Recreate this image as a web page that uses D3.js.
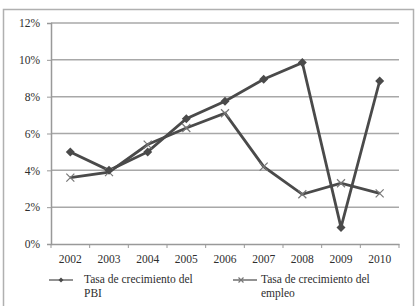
<!DOCTYPE html>
<meta charset="utf-8">
<head>
  <script src="https://d3js.org/d3.v7.min.js"></script>
  <style>
    body { margin: 0; background: #fff; }
  </style>
</head>
<body>
  <svg id="chart" width="417" height="306"></svg>
  <script>
    var years = ["2002", "2003", "2004", "2005", "2006", "2007", "2008", "2009", "2010"];
    var pbi = [5.0, 4.0, 5.0, 6.8, 7.75, 8.95, 9.85, 0.9, 8.85];
    var empleo = [3.6, 3.9, 5.4, 6.3, 7.1, 4.2, 2.7, 3.3, 2.75];
    var yTicks = [0, 2, 4, 6, 8, 10, 12];
    var seriesNames = ["Tasa de crecimiento del|PBI", "Tasa de crecimiento del|empleo"];

    var fontFam = "'Liberation Serif', 'Times New Roman', serif";
    var textColor = "#2e2e2e";

    var svg = d3.select("#chart");

    // outer frame
    svg.append("rect")
      .attr("x", 3.5).attr("y", 9.5)
      .attr("width", 410).attr("height", 300)
      .attr("fill", "none").attr("stroke", "#b0b0b0").attr("stroke-width", 1.5);

    var x = d3.scaleBand().domain(years).range([51, 399]);
    var y = d3.scaleLinear().domain([0, 12]).range([244, 23]);

    // gridlines
    svg.append("g").selectAll("line")
      .data(yTicks.filter(function(d) { return d > 0; }))
      .enter().append("line")
        .attr("x1", 51).attr("x2", 399)
        .attr("y1", function(d) { return y(d); })
        .attr("y2", function(d) { return y(d); })
        .attr("stroke", "#a8a8a8").attr("stroke-width", 1.5);

    // y axis
    var yAxis = svg.append("g")
      .attr("transform", "translate(51,0)")
      .call(d3.axisLeft(y).tickValues(yTicks).tickSize(4).tickPadding(7)
        .tickFormat(function(d) { return d + "%"; }));
    yAxis.selectAll("text")
      .style("font-family", fontFam).style("font-size", "11.5px").attr("fill", textColor);

    // x axis
    var xAxis = svg.append("g")
      .attr("transform", "translate(0,244)")
      .call(d3.axisBottom(x).tickSize(0).tickPadding(11));
    xAxis.selectAll("text")
      .style("font-family", fontFam).style("font-size", "11.5px").attr("fill", textColor);
    xAxis.append("g").selectAll("line")
      .data(years.concat(["end"]))
      .enter().append("line")
        .attr("x1", function(d, i) { return x.range()[0] + i * x.step(); })
        .attr("x2", function(d, i) { return x.range()[0] + i * x.step(); })
        .attr("y1", 0).attr("y2", 4)
        .attr("stroke", "#999");
    svg.selectAll(".domain").attr("stroke", "#999").attr("stroke-width", 1.5);
    svg.selectAll(".tick line").attr("stroke", "#999");

    var line = d3.line()
      .x(function(d, i) { return x(years[i]) + x.bandwidth() / 2; })
      .y(function(d) { return y(d); });

    var lineColor = "#4a4a4a";

    svg.append("path").datum(empleo)
      .attr("d", line).attr("fill", "none")
      .attr("stroke", lineColor).attr("stroke-width", 2.8);
    svg.append("path").datum(pbi)
      .attr("d", line).attr("fill", "none")
      .attr("stroke", lineColor).attr("stroke-width", 2.8);

    function diamond(g, cx, cy, s) {
      g.append("path")
        .attr("d", "M" + cx + "," + (cy - s) + "L" + (cx + s) + "," + cy + "L" + cx + "," + (cy + s) + "L" + (cx - s) + "," + cy + "Z")
        .attr("fill", lineColor);
    }
    function cross(g, cx, cy, s) {
      g.append("path")
        .attr("d", "M" + (cx - s) + "," + (cy - s) + "L" + (cx + s) + "," + (cy + s) + "M" + (cx - s) + "," + (cy + s) + "L" + (cx + s) + "," + (cy - s))
        .attr("stroke", "#777").attr("stroke-width", 1.2);
    }

    var marks = svg.append("g");
    empleo.forEach(function(d, i) {
      cross(marks, x(years[i]) + x.bandwidth() / 2, y(d), 4);
    });
    pbi.forEach(function(d, i) {
      diamond(marks, x(years[i]) + x.bandwidth() / 2, y(d), 4.5);
    });

    // legend
    var legendX = [49, 233];
    var legendTextX = [84, 261];
    var legendMarkX = [61, 241];
    seriesNames.forEach(function(name, i) {
      var g = svg.append("g");
      var lx = legendX[i];
      g.append("line")
        .attr("x1", lx).attr("x2", lx + 24)
        .attr("y1", 280).attr("y2", 280)
        .attr("stroke", lineColor).attr("stroke-width", 1.2);
      if (i === 0) diamond(g, legendMarkX[i], 280, 2.5);
      else cross(g, legendMarkX[i], 280, 2.5);
      var t = g.append("text")
        .attr("x", legendTextX[i]).attr("y", 283)
        .style("font-family", fontFam).style("font-size", "11.5px")
        .attr("fill", textColor);
      name.split("|").forEach(function(part, j) {
        t.append("tspan").attr("x", legendTextX[i]).attr("dy", j === 0 ? 0 : 14).text(part);
      });
    });
  </script>
</body>
</html>
